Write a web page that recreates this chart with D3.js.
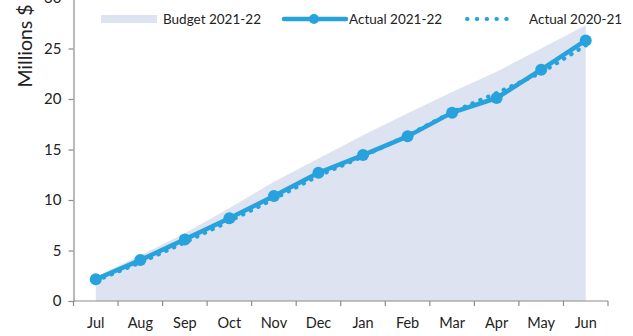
<!DOCTYPE html>
<html>
<head>
<meta charset="utf-8">
<script src="https://cdn.jsdelivr.net/npm/d3@7"></script>
<style>
  html, body { margin: 0; padding: 0; background: #fff; }
  svg { display: block; font-family: Lato, "Open Sans", sans-serif; }
</style>
</head>
<body>
<svg id="chart" width="633" height="336"></svg>
<script>
// Cumulative spending by month, millions of dollars
const months = ["Jul", "Aug", "Sep", "Oct", "Nov", "Dec", "Jan", "Feb", "Mar", "Apr", "May", "Jun"];
const budget2122 = [2.4, 4.5, 6.7, 9.2, 11.8, 14.1, 16.4, 18.6, 20.7, 22.7, 25.0, 27.3];
const actual2122 = [2.15, 4.05, 6.1, 8.2, 10.4, 12.7, 14.45, 16.3, 18.65, 20.1, 22.9, 25.8];
const actual2021 = [2.0, 3.8, 5.8, 7.9, 10.1, 12.4, 14.3, 16.4, 18.7, 20.6, 22.6, 25.3];
const yTicks = [0, 5, 10, 15, 20, 25, 30];
const legendLabels = ["Budget 2021-22", "Actual 2021-22", "Actual 2020-21"];

const blue = "#27a2dc";
const areaFill = "#dde3f1";
const axisGrey = "#8c8c8c";

const svg = d3.select("#chart");

const x = d3.scaleBand().domain(months).range([73.5, 608]).padding(0);
const y = d3.scaleLinear().domain([0, 30]).range([301, -2]);
const cx = m => x(m) + x.bandwidth() / 2;

// Budget as a shaded area
const area = d3.area()
  .x((d, i) => cx(months[i]))
  .y0(y(0))
  .y1(d => y(d));
svg.append("path")
  .datum(budget2122)
  .attr("d", area)
  .attr("fill", areaFill);

// Axes
const xAxis = svg.append("g")
  .attr("transform", `translate(0,${y(0)})`)
  .call(d3.axisBottom(x).tickSize(0).tickPadding(17));
xAxis.select(".domain").remove();
xAxis.selectAll("text").attr("font-size", 14.5).attr("fill", "#222").attr("font-family", "Lato, sans-serif");

// x-axis baseline with ticks at category boundaries
svg.append("line")
  .attr("x1", x.range()[0]).attr("x2", x.range()[1])
  .attr("y1", y(0)).attr("y2", y(0))
  .attr("stroke", axisGrey).attr("stroke-width", 1.2);
const bounds = months.map(m => x(m)).concat([x.range()[1]]);
svg.selectAll(".xb").data(bounds).enter().append("line")
  .attr("x1", d => d).attr("x2", d => d)
  .attr("y1", y(0)).attr("y2", y(0) + 5)
  .attr("stroke", axisGrey).attr("stroke-width", 1.2);

const yAxis = svg.append("g")
  .attr("transform", `translate(${x.range()[0]},0)`)
  .call(d3.axisLeft(y).tickValues(yTicks).tickSize(5).tickPadding(7));
yAxis.select(".domain").attr("stroke", axisGrey).attr("stroke-width", 1.2);
yAxis.selectAll(".tick line").attr("stroke", axisGrey).attr("stroke-width", 1.2);
yAxis.selectAll("text").attr("font-size", 15).attr("fill", "#222").attr("font-family", "Lato, sans-serif");

svg.append("text")
  .attr("transform", "translate(32,46) rotate(-90)")
  .attr("text-anchor", "middle")
  .attr("font-size", 19.5)
  .attr("fill", "#222")
  .text("Millions $");

// Previous year actuals, dotted
const line = d3.line().x((d, i) => cx(months[i])).y(d => y(d));
svg.append("path")
  .datum(actual2021)
  .attr("d", line)
  .attr("fill", "none")
  .attr("stroke", blue)
  .attr("stroke-width", 4)
  .attr("stroke-linecap", "round")
  .attr("stroke-dasharray", "0.5 8");

// Current year actuals, solid with markers
svg.append("path")
  .datum(actual2122)
  .attr("d", line)
  .attr("fill", "none")
  .attr("stroke", blue)
  .attr("stroke-width", 4.5)
  .attr("stroke-linejoin", "round");
svg.selectAll(".pt").data(actual2122).enter().append("circle")
  .attr("cx", (d, i) => cx(months[i]))
  .attr("cy", d => y(d))
  .attr("r", 6)
  .attr("fill", blue);

// Legend
const lg = svg.append("g").attr("font-size", 13.5).attr("fill", "#222");
lg.append("rect").attr("x", 101).attr("y", 15).attr("width", 56).attr("height", 8).attr("fill", areaFill);
lg.append("text").attr("x", 163).attr("y", 24).text(legendLabels[0]);

lg.append("line").attr("x1", 284).attr("x2", 346).attr("y1", 19).attr("y2", 19)
  .attr("stroke", blue).attr("stroke-width", 4.5).attr("stroke-linecap", "round");
lg.append("circle").attr("cx", 314).attr("cy", 19).attr("r", 5).attr("fill", blue);
lg.append("text").attr("x", 349).attr("y", 24).text(legendLabels[1]);

lg.append("line").attr("x1", 467).attr("x2", 515).attr("y1", 19).attr("y2", 19)
  .attr("stroke", blue).attr("stroke-width", 4).attr("stroke-linecap", "round")
  .attr("stroke-dasharray", "0.5 9.3");
lg.append("text").attr("x", 529).attr("y", 24).text(legendLabels[2]);
</script>
</body>
</html>
